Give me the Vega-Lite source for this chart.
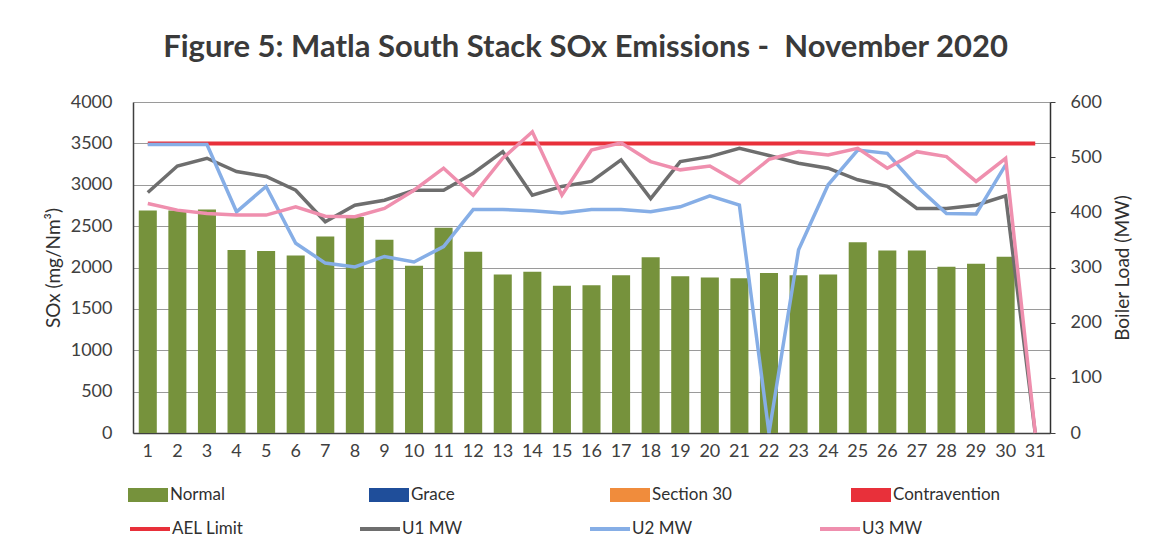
{
  "$schema": "https://vega.github.io/schema/vega-lite/v6.json",
  "autosize": {"type": "none"},
  "width": 917,
  "height": 331,
  "padding": {"left": 133, "top": 102, "right": 107, "bottom": 121},
  "background": "white",
  "title": {
    "text": "Figure 5: Matla South Stack SOx Emissions -\u00a0 November 2020",
    "font": "Lato",
    "fontSize": 31,
    "fontWeight": "bold",
    "color": "#3a3a3a",
    "anchor": "middle",
    "frame": "group",
    "baseline": "alphabetic",
    "offset": 5,
    "dx": -6
  },
  "data": {
    "values": [
      {"day": 1, "status": "Normal", "sox": 2690, "U1 MW": 436, "U2 MW": 523, "U3 MW": 416, "AEL Limit": 3500},
      {"day": 2, "status": "Normal", "sox": 2690, "U1 MW": 484, "U2 MW": 523, "U3 MW": 404, "AEL Limit": 3500},
      {"day": 3, "status": "Normal", "sox": 2700, "U1 MW": 498, "U2 MW": 523, "U3 MW": 398, "AEL Limit": 3500},
      {"day": 4, "status": "Normal", "sox": 2210, "U1 MW": 474, "U2 MW": 401, "U3 MW": 395, "AEL Limit": 3500},
      {"day": 5, "status": "Normal", "sox": 2200, "U1 MW": 465, "U2 MW": 447, "U3 MW": 395, "AEL Limit": 3500},
      {"day": 6, "status": "Normal", "sox": 2145, "U1 MW": 440, "U2 MW": 344, "U3 MW": 410, "AEL Limit": 3500},
      {"day": 7, "status": "Normal", "sox": 2375, "U1 MW": 383, "U2 MW": 308, "U3 MW": 393, "AEL Limit": 3500},
      {"day": 8, "status": "Normal", "sox": 2610, "U1 MW": 413, "U2 MW": 301, "U3 MW": 392, "AEL Limit": 3500},
      {"day": 9, "status": "Normal", "sox": 2335, "U1 MW": 422, "U2 MW": 320, "U3 MW": 407, "AEL Limit": 3500},
      {"day": 10, "status": "Normal", "sox": 2020, "U1 MW": 440, "U2 MW": 310, "U3 MW": 440, "AEL Limit": 3500},
      {"day": 11, "status": "Normal", "sox": 2480, "U1 MW": 440, "U2 MW": 338, "U3 MW": 480, "AEL Limit": 3500},
      {"day": 12, "status": "Normal", "sox": 2190, "U1 MW": 471, "U2 MW": 405, "U3 MW": 431, "AEL Limit": 3500},
      {"day": 13, "status": "Normal", "sox": 1915, "U1 MW": 510, "U2 MW": 405, "U3 MW": 498, "AEL Limit": 3500},
      {"day": 14, "status": "Normal", "sox": 1950, "U1 MW": 431, "U2 MW": 403, "U3 MW": 546, "AEL Limit": 3500},
      {"day": 15, "status": "Normal", "sox": 1780, "U1 MW": 447, "U2 MW": 399, "U3 MW": 431, "AEL Limit": 3500},
      {"day": 16, "status": "Normal", "sox": 1785, "U1 MW": 456, "U2 MW": 405, "U3 MW": 513, "AEL Limit": 3500},
      {"day": 17, "status": "Normal", "sox": 1905, "U1 MW": 495, "U2 MW": 405, "U3 MW": 526, "AEL Limit": 3500},
      {"day": 18, "status": "Normal", "sox": 2125, "U1 MW": 425, "U2 MW": 401, "U3 MW": 492, "AEL Limit": 3500},
      {"day": 19, "status": "Normal", "sox": 1895, "U1 MW": 492, "U2 MW": 410, "U3 MW": 477, "AEL Limit": 3500},
      {"day": 20, "status": "Normal", "sox": 1880, "U1 MW": 501, "U2 MW": 430, "U3 MW": 484, "AEL Limit": 3500},
      {"day": 21, "status": "Normal", "sox": 1870, "U1 MW": 516, "U2 MW": 413, "U3 MW": 453, "AEL Limit": 3500},
      {"day": 22, "status": "Normal", "sox": 1935, "U1 MW": 503, "U2 MW": 0, "U3 MW": 496, "AEL Limit": 3500},
      {"day": 23, "status": "Normal", "sox": 1905, "U1 MW": 489, "U2 MW": 332, "U3 MW": 510, "AEL Limit": 3500},
      {"day": 24, "status": "Normal", "sox": 1915, "U1 MW": 480, "U2 MW": 450, "U3 MW": 504, "AEL Limit": 3500},
      {"day": 25, "status": "Normal", "sox": 2305, "U1 MW": 459, "U2 MW": 513, "U3 MW": 516, "AEL Limit": 3500},
      {"day": 26, "status": "Normal", "sox": 2205, "U1 MW": 447, "U2 MW": 507, "U3 MW": 480, "AEL Limit": 3500},
      {"day": 27, "status": "Normal", "sox": 2205, "U1 MW": 407, "U2 MW": 447, "U3 MW": 510, "AEL Limit": 3500},
      {"day": 28, "status": "Normal", "sox": 2010, "U1 MW": 407, "U2 MW": 398, "U3 MW": 501, "AEL Limit": 3500},
      {"day": 29, "status": "Normal", "sox": 2045, "U1 MW": 413, "U2 MW": 397, "U3 MW": 456, "AEL Limit": 3500},
      {"day": 30, "status": "Normal", "sox": 2130, "U1 MW": 430, "U2 MW": 486, "U3 MW": 498, "AEL Limit": 3500},
      {"day": 31, "status": "Normal", "sox": null, "U1 MW": 0, "U2 MW": null, "U3 MW": 0, "AEL Limit": 3500}
    ]
  },
  "config": {
    "view": {"stroke": null},
    "font": "Lato",
    "axis": {
      "labelFont": "Lato",
      "titleFont": "Lato",
      "labelColor": "#404040",
      "titleColor": "#303030",
      "labelFontSize": 18,
      "titleFontSize": 19,
      "titleFontWeight": "normal"
    },
    "legend": {
      "labelFont": "Lato",
      "labelFontSize": 17,
      "labelColor": "#303030",
      "padding": 0
    }
  },
  "encoding": {
    "x": {
      "field": "day",
      "type": "ordinal",
      "scale": {"type": "band", "paddingInner": 0.39, "paddingOuter": 0.195},
      "axis": {
        "labelAngle": 0,
        "ticks": false,
        "domainColor": "#404040",
        "domainWidth": 1.5,
        "labelPadding": 9,
        "title": null
      }
    }
  },
  "layer": [
    {
      "layer": [
        {
          "mark": {"type": "bar"},
          "encoding": {
            "y": {
              "field": "sox",
              "type": "quantitative",
              "scale": {"domain": [0, 4000]},
              "axis": {
                "title": "SOx (mg/Nm³)",
                "values": [0, 500, 1000, 1500, 2000, 2500, 3000, 3500, 4000],
                "format": "d",
                "grid": true,
                "gridColor": "#9a9a9a",
                "gridWidth": 1,
                "ticks": false,
                "labelPadding": 21,
                "titlePadding": 7,
                "domainColor": "#404040",
                "domainWidth": 1.5
              }
            },
            "fill": {
              "field": "status",
              "type": "nominal",
              "scale": {
                "domain": ["Normal", "Grace", "Section 30", "Contravention"],
                "range": ["#76923c", "#1f4e9a", "#f08c3c", "#e8303a"]
              },
              "legend": {
                "orient": "none",
                "legendX": -5,
                "legendY": 373,
                "direction": "horizontal",
                "columns": 4,
                "title": null,
                "symbolType": "M-1,-0.35H1V0.35H-1Z",
                "symbolSize": 1600,
                "symbolStrokeWidth": 0,
                "labelOffset": 2,
                "columnPadding": 91,
                "gridAlign": "all"
              }
            }
          }
        },
        {
          "transform": [{"fold": ["AEL Limit"], "as": ["series", "limit"]}],
          "mark": {"type": "line", "strokeWidth": 4},
          "encoding": {
            "y": {"field": "limit", "type": "quantitative"},
            "stroke": {
              "field": "series",
              "type": "nominal",
              "scale": {
                "domain": ["AEL Limit", "U1 MW", "U2 MW", "U3 MW"],
                "range": ["#e8303a", "#6e6e6e", "#86aee6", "#ef8fae"]
              },
              "legend": {
                "orient": "none",
                "legendX": -5,
                "legendY": 405,
                "direction": "horizontal",
                "columns": 4,
                "title": null,
                "symbolType": "stroke",
                "symbolSize": 1600,
                "symbolStrokeWidth": 4,
                "labelOffset": 0,
                "columnPadding": 108,
                "gridAlign": "all"
              }
            }
          }
        }
      ]
    },
    {
      "transform": [{"fold": ["U1 MW", "U2 MW", "U3 MW"], "as": ["series", "mw"]}],
      "mark": {"type": "line", "strokeWidth": 3.5},
      "encoding": {
        "y": {
          "field": "mw",
          "type": "quantitative",
          "scale": {"domain": [0, 600]},
          "axis": {
            "orient": "right",
            "title": "Boiler Load (MW)",
            "values": [0, 100, 200, 300, 400, 500, 600],
            "grid": false,
            "tickSize": 5,
            "tickColor": "#404040",
            "labelPadding": 15,
            "titlePadding": 12,
            "titleAngle": 270,
            "titleBaseline": "top",
            "domainColor": "#303030",
            "domainWidth": 1.5
          }
        },
        "stroke": {
          "field": "series",
          "type": "nominal",
          "scale": {
            "domain": ["AEL Limit", "U1 MW", "U2 MW", "U3 MW"],
            "range": ["#e8303a", "#6e6e6e", "#86aee6", "#ef8fae"]
          },
          "legend": {
            "orient": "none",
            "legendX": -5,
            "legendY": 405,
            "direction": "horizontal",
            "columns": 4,
            "title": null,
            "symbolType": "stroke",
            "symbolSize": 1600,
            "symbolStrokeWidth": 4,
            "labelOffset": 0,
            "columnPadding": 108,
            "gridAlign": "all"
          }
        }
      }
    }
  ],
  "resolve": {"scale": {"y": "independent"}}
}
